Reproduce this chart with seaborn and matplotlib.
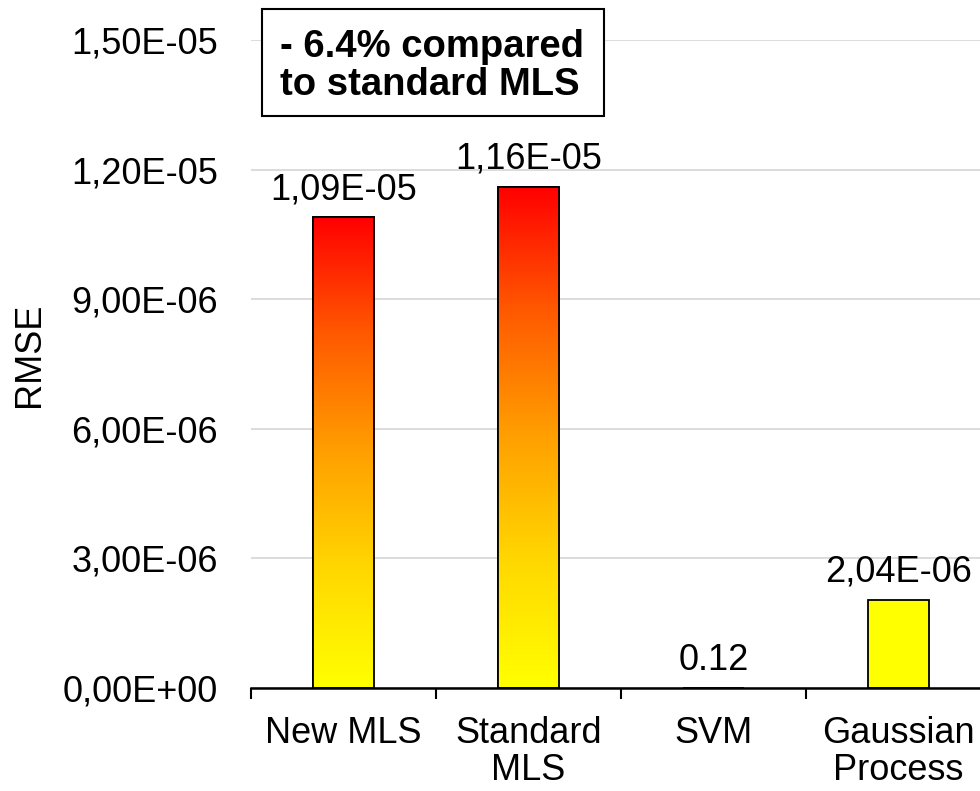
import numpy as np
import pandas as pd
import matplotlib
matplotlib.use("Agg")
import matplotlib.pyplot as plt
from matplotlib.colors import LinearSegmentedColormap
from matplotlib.patches import Rectangle
import seaborn as sns

categories = ["New MLS", "Standard\nMLS", "SVM", "Gaussian\nProcess"]
rmse = [1.09e-05, 1.16e-05, 0.0, 2.04e-06]
value_labels = ["1,09E-05", "1,16E-05", "0.12", "2,04E-06"]
gradient = [True, True, False, False]
y_ticks = [0.0, 3e-06, 6e-06, 9e-06, 1.2e-05, 1.5e-05]
note = "- 6.4% compared\nto standard MLS"

FS = 26

sns.set_theme(style="white")
plt.rcParams["font.family"] = ["Liberation Sans", "DejaVu Sans"]

fig = plt.figure(figsize=(9.8, 7.91), dpi=100)
ax = fig.add_axes([251 / 980, 103 / 791, 740 / 980, 648 / 791])

df = pd.DataFrame({"cat": categories, "rmse": rmse})
sns.barplot(data=df, x="cat", y="rmse", ax=ax, color="#ffff00",
            saturation=1, width=0.33, edgecolor="black", linewidth=1.3, zorder=3)

cmap = LinearSegmentedColormap.from_list(
    "yr", [(0, "#ffff00"), (0.25, "#ffd800"), (0.5, "#ffa000"),
           (0.75, "#ff5a00"), (1, "#ff0000")])
grad = np.linspace(0, 1, 256).reshape(-1, 1)
for patch, g in zip(list(ax.patches), gradient):
    if not g:
        continue
    x0, y0 = patch.get_x(), patch.get_y()
    w, h = patch.get_width(), patch.get_height()
    im = ax.imshow(grad, cmap=cmap, origin="lower", aspect="auto",
                   extent=[x0, x0 + w, y0, y0 + h], zorder=3.5)
    im.set_clip_path(patch)
    edge = plt.Rectangle((x0, y0), w, h, fill=False, edgecolor="black",
                         linewidth=1.3, zorder=4)
    ax.add_patch(edge)
ax.set_xlim(-0.5, len(categories) - 0.5)
ax.set_ylim(0, 1.5e-05)

for i, (v, lab) in enumerate(zip(rmse, value_labels)):
    ax.annotate(lab, (i, v), xytext=(0, 13), textcoords="offset points",
                ha="center", va="baseline", fontsize=FS, color="black")

ax.set_yticks(y_ticks)
ax.set_yticklabels([f"{t:.2E}".replace(".", ",") for t in y_ticks])
ax.yaxis.grid(True, color="#d9d9d9", linewidth=1.3, zorder=0)
ax.set_axisbelow(True)
ax.tick_params(axis="y", length=0, pad=24, labelsize=FS, labelcolor="black")

ax.set_xticks(range(len(categories)))
ax.set_xticklabels(categories, linespacing=1.1)
ax.set_xticks(np.arange(-0.5, len(categories), 1.0), minor=True)
ax.tick_params(axis="x", which="major", length=0, pad=20, labelsize=FS, labelcolor="black")
ax.tick_params(axis="x", which="minor", length=8, width=1.5, color="black", direction="out", bottom=True)

ax.set_xlabel("")
ax.set_ylabel("RMSE", fontsize=FS, color="black")
ax.yaxis.set_label_coords((47 - 251) / 740, (688 - 355) / 648)

for s in ["top", "right", "left"]:
    ax.spines[s].set_visible(False)
ax.spines["bottom"].set_color("black")
ax.spines["bottom"].set_linewidth(1.8)
ax.spines["bottom"].set_zorder(5)

box = Rectangle((262 / 980, 1 - 116 / 791), (604 - 262) / 980, (116 - 9) / 791,
                transform=fig.transFigure, facecolor="white", edgecolor="black",
                linewidth=1.5, zorder=10)
fig.patches.append(box)
fig.text(280 / 980, 1 - 66 / 791, note, fontsize=27.5, fontweight="bold",
         ha="left", va="center", linespacing=1.08, color="black", zorder=11)

fig.savefig("out.png", dpi=100)
